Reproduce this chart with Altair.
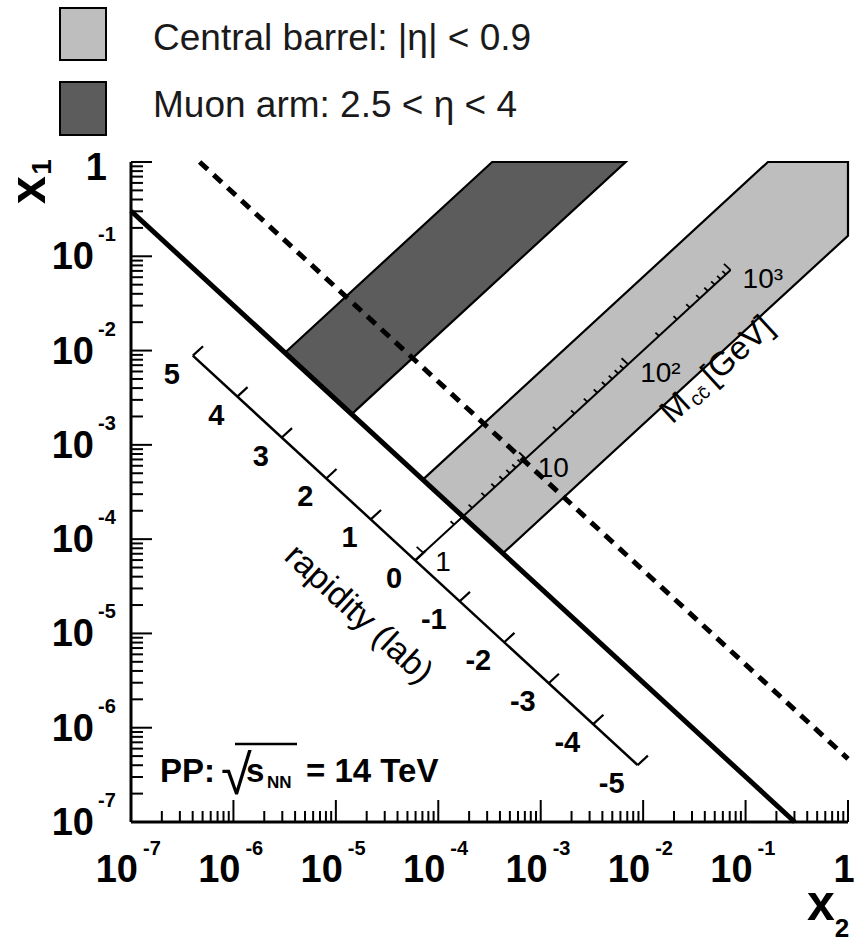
import math
import pandas as pd
import altair as alt

# ---------------- values ----------------
SQRT_S_GEV = 14000.0

# log10(x1 * x2) along the straight diagonals
logprod_solid = -7.52
logprod_dashed = -6.33
logprod_rapidity_axis = -8.45

# pseudorapidity acceptances
central_eta = [-0.9, 0.9]
muon_eta = [2.5, 4.0]

rapidity_values = [5, 4, 3, 2, 1, 0, -1, -2, -3, -4, -5]

mass_top_gev = 1000.0
mass_major_gev = [1, 10, 100, 1000]
mass_major_text = ["1", "10", "10²", "10³"]

decades = [-7, -6, -5, -4, -3, -2, -1, 0]

legend_text = ["Central barrel: |η| < 0.9", "Muon arm: 2.5 < η < 4"]

LIGHT = "#bebebe"
DARK = "#5c5c5c"
FONT = "Liberation Sans"
W, H = 717, 660

# ---------------- geometry helpers ----------------
LN10 = math.log(10.0)


def logratio(eta):
    """log10(x1/x2) for a given rapidity."""
    return 2.0 * eta / LN10


def band_polygon(eta_lo, eta_hi, s):
    """Vertices (log x2, log x1) of an acceptance band above the line log(x1 x2) = s."""
    lo, hi = logratio(eta_lo), logratio(eta_hi)
    pts = [((s - hi) / 2, (s + hi) / 2), (-hi, 0.0)]
    if lo >= 0:
        pts.append((-lo, 0.0))
    else:
        pts += [(0.0, 0.0), (0.0, lo)]
    pts.append(((s - lo) / 2, (s + lo) / 2))
    return pts


def sweep(poly):
    """Upper/lower envelope of a convex polygon at each vertex abscissa."""
    xs = sorted(set(round(p[0], 9) for p in poly))
    n = len(poly)
    out = []
    for xv in xs:
        vals = []
        for i in range(n):
            (ax, ay), (bx, by) = poly[i], poly[(i + 1) % n]
            if min(ax, bx) - 1e-9 <= xv <= max(ax, bx) + 1e-9:
                if abs(bx - ax) < 1e-12:
                    vals += [ay, by]
                else:
                    t = (xv - ax) / (bx - ax)
                    vals.append(ay + t * (by - ay))
        out.append((xv, max(vals), min(vals)))
    return out


def area_df(poly):
    rows = [{"x2": 10 ** a, "top": 10 ** b, "bot": 10 ** c} for a, b, c in sweep(poly)]
    return pd.DataFrame(rows)


def outline_df(poly, name):
    closed = poly + [poly[0]]
    return pd.DataFrame({
        "band": name,
        "i": list(range(len(closed))),
        "x2": [10 ** p[0] for p in closed],
        "x1": [10 ** p[1] for p in closed],
    })


light_poly = band_polygon(central_eta[0], central_eta[1], logprod_solid)
dark_poly = band_polygon(muon_eta[0], muon_eta[1], logprod_solid)

outlines = pd.concat([outline_df(light_poly, "central"), outline_df(dark_poly, "muon")])


def diagonal(s):
    """End points of the line log(x1 x2) = s inside the unit square of decades."""
    if s < -7:
        return {"xa": 1e-7, "ya": 10 ** (s + 7), "xb": 10 ** (s + 7), "yb": 1e-7}
    return {"xa": 10 ** s, "ya": 1.0, "xb": 1.0, "yb": 10 ** s}


solid_df = pd.DataFrame([diagonal(logprod_solid)])
dashed_df = pd.DataFrame([diagonal(logprod_dashed)])

# rapidity scale along log(x1 x2) = const
rap_rows = []
for yv in rapidity_values:
    d = logratio(yv)
    bx, by = (logprod_rapidity_axis - d) / 2, (logprod_rapidity_axis + d) / 2
    rap_rows.append({"xa": 10 ** bx, "ya": 10 ** by, "xb": 10 ** (bx + 0.1), "yb": 10 ** (by + 0.1),
                     "label": str(yv)})
rap_df = pd.DataFrame(rap_rows)
rap_line = pd.DataFrame([{"xa": rap_rows[0]["xa"], "ya": rap_rows[0]["ya"],
                          "xb": rap_rows[-1]["xa"], "yb": rap_rows[-1]["ya"]}])

# invariant-mass scale along x1 = x2
lx_lo = logprod_rapidity_axis / 2
lx_hi = math.log10(mass_top_gev / SQRT_S_GEV)
mass_line = pd.DataFrame([{"xa": 10 ** lx_lo, "ya": 10 ** lx_lo, "xb": 10 ** lx_hi, "yb": 10 ** lx_hi}])
mass_values = [k * 10 ** p for p in range(0, 3) for k in range(1, 10)] + [mass_top_gev]
mt = []
for m in mass_values:
    lx = math.log10(m / SQRT_S_GEV)
    if lx < lx_lo:
        continue
    dlt = 0.065 if m in mass_major_gev else 0.035
    mt.append({"xa": 10 ** lx, "ya": 10 ** lx, "xb": 10 ** (lx - dlt), "yb": 10 ** (lx + dlt)})
mass_tick_df = pd.DataFrame(mt)
mass_lab_df = pd.DataFrame({
    "x": [m / SQRT_S_GEV for m in mass_major_gev],
    "label": mass_major_text,
})

# frame ticks
x_minor = [k * 10.0 ** d for d in range(-7, 0) for k in range(2, 10)]
x_major = [10.0 ** d for d in range(-6, 1)]
y_minor = x_minor
y_major = x_major

dec_df = pd.DataFrame({"v": [10.0 ** d for d in decades if d != 0],
                       "exp": [str(d) for d in decades if d != 0]})
one_df = pd.DataFrame({"v": [1.0]})

# ---------------- encodings ----------------
xs = alt.Scale(type="log", domain=[1e-7, 1], nice=False)
ys = alt.Scale(type="log", domain=[1e-7, 1], nice=False)


def X(f):
    return alt.X(f, type="quantitative", scale=xs, axis=None)


def Y(f):
    return alt.Y(f, type="quantitative", scale=ys, axis=None)


one = alt.Data(values=[{}])

layers = []

# acceptance bands
layers.append(alt.Chart(area_df(light_poly)).mark_area(color=LIGHT, opacity=1).encode(
    x=X("x2"), y=Y("top"), y2=alt.Y2("bot")))
layers.append(alt.Chart(area_df(dark_poly)).mark_area(color=DARK, opacity=1).encode(
    x=X("x2"), y=Y("top"), y2=alt.Y2("bot")))
layers.append(alt.Chart(outlines).mark_line(color="black", strokeWidth=2.2).encode(
    x=X("x2"), y=Y("x1"), order="i:Q", detail="band:N"))

# diagonals
layers.append(alt.Chart(solid_df).mark_rule(color="black", strokeWidth=5).encode(
    x=X("xa"), y=Y("ya"), x2=alt.X2("xb"), y2=alt.Y2("yb")))
layers.append(alt.Chart(dashed_df).mark_rule(color="black", strokeWidth=5, strokeDash=[11, 8]).encode(
    x=X("xa"), y=Y("ya"), x2=alt.X2("xb"), y2=alt.Y2("yb")))

# mass scale
layers.append(alt.Chart(mass_line).mark_rule(color="black", strokeWidth=2).encode(
    x=X("xa"), y=Y("ya"), x2=alt.X2("xb"), y2=alt.Y2("yb")))
layers.append(alt.Chart(mass_tick_df).mark_rule(color="black", strokeWidth=1.8).encode(
    x=X("xa"), y=Y("ya"), x2=alt.X2("xb"), y2=alt.Y2("yb")))
layers.append(alt.Chart(mass_lab_df).mark_text(font=FONT, fontSize=28, align="left", baseline="middle",
                                               dx=12, dy=10, color="black").encode(
    x=X("x"), y=Y("x"), text="label:N"))

# rapidity scale
layers.append(alt.Chart(rap_line).mark_rule(color="black", strokeWidth=2.5).encode(
    x=X("xa"), y=Y("ya"), x2=alt.X2("xb"), y2=alt.Y2("yb")))
layers.append(alt.Chart(rap_df).mark_rule(color="black", strokeWidth=2.2).encode(
    x=X("xa"), y=Y("ya"), x2=alt.X2("xb"), y2=alt.Y2("yb")))
layers.append(alt.Chart(rap_df).mark_text(font=FONT, fontSize=29, fontWeight="bold", align="right",
                                          baseline="middle", dx=-13, dy=19, color="black").encode(
    x=X("xa"), y=Y("ya"), text="label:N"))

# rotated scale titles
rap_anchor = pd.DataFrame({"x": [10 ** -4.78], "y": [10 ** -4.80]})
layers.append(alt.Chart(rap_anchor).mark_text(font=FONT, fontSize=34, angle=42.7, align="center",
                                              baseline="middle", text="rapidity (lab)",
                                              color="black").encode(x=X("x"), y=Y("y")))

m_anchor = pd.DataFrame({"x": [10 ** -1.28], "y": [10 ** -2.205]})
layers.append(alt.Chart(m_anchor).mark_text(font=FONT, fontSize=33, angle=317.3, align="left",
                                            baseline="middle", dx=-70, text="M", color="black").encode(
    x=X("x"), y=Y("y")))
layers.append(alt.Chart(m_anchor).mark_text(font=FONT, fontSize=20, angle=317.3, align="left",
                                            baseline="middle", dx=-40, dy=8, text="cc̄", color="black").encode(
    x=X("x"), y=Y("y")))
layers.append(alt.Chart(m_anchor).mark_text(font=FONT, fontSize=33, angle=317.3, align="left",
                                            baseline="middle", dx=-14, text="[GeV]", color="black").encode(
    x=X("x"), y=Y("y")))

# frame lines
layers.append(alt.Chart(one).mark_rule(color="black", strokeWidth=3).encode(
    x=alt.value(0), x2=alt.value(W), y=alt.value(H)))
layers.append(alt.Chart(one).mark_rule(color="black", strokeWidth=3).encode(
    x=alt.value(0), y=alt.value(0), y2=alt.value(H)))

# frame ticks (pointing inwards)
layers.append(alt.Chart(pd.DataFrame({"v": x_minor})).mark_rule(color="black", strokeWidth=2).encode(
    x=X("v"), y=alt.value(H), y2=alt.value(H - 11)))
layers.append(alt.Chart(pd.DataFrame({"v": x_major})).mark_rule(color="black", strokeWidth=2).encode(
    x=X("v"), y=alt.value(H), y2=alt.value(H - 22)))
layers.append(alt.Chart(pd.DataFrame({"v": y_minor})).mark_rule(color="black", strokeWidth=2).encode(
    y=Y("v"), x=alt.value(0), x2=alt.value(12)))
layers.append(alt.Chart(pd.DataFrame({"v": y_major})).mark_rule(color="black", strokeWidth=2).encode(
    y=Y("v"), x=alt.value(0), x2=alt.value(21)))

# frame labels: x2 axis
layers.append(alt.Chart(dec_df).mark_text(font=FONT, fontSize=38, fontWeight="bold", align="right",
                                          baseline="alphabetic", dx=7, color="black").encode(
    x=X("v"), y=alt.value(H + 60), text=alt.value("10")))
layers.append(alt.Chart(dec_df).mark_text(font=FONT, fontSize=20, fontWeight="bold", align="left",
                                          baseline="alphabetic", dx=12, color="black").encode(
    x=X("v"), y=alt.value(H + 33), text="exp:N"))
layers.append(alt.Chart(one_df).mark_text(font=FONT, fontSize=38, fontWeight="bold", align="center",
                                          baseline="alphabetic", dx=-4, color="black").encode(
    x=X("v"), y=alt.value(H + 60), text=alt.value("1")))

# frame labels: x1 axis
layers.append(alt.Chart(dec_df).mark_text(font=FONT, fontSize=38, fontWeight="bold", align="right",
                                          baseline="middle", dy=2, color="black").encode(
    y=Y("v"), x=alt.value(-37), text=alt.value("10")))
layers.append(alt.Chart(dec_df).mark_text(font=FONT, fontSize=20, fontWeight="bold", align="left",
                                          baseline="middle", dy=-21, color="black").encode(
    y=Y("v"), x=alt.value(-33), text="exp:N"))
layers.append(alt.Chart(one_df).mark_text(font=FONT, fontSize=38, fontWeight="bold", align="right",
                                          baseline="middle", dy=7, color="black").encode(
    y=Y("v"), x=alt.value(-24), text=alt.value("1")))

# axis titles
layers.append(alt.Chart(one).mark_text(font=FONT, fontSize=50, fontWeight="bold", angle=270,
                                       align="center", baseline="alphabetic", text="x", color="black").encode(
    x=alt.value(-86), y=alt.value(28)))
layers.append(alt.Chart(one).mark_text(font=FONT, fontSize=28, fontWeight="bold", angle=270,
                                       align="center", baseline="alphabetic", text="1", color="black").encode(
    x=alt.value(-80), y=alt.value(5)))
layers.append(alt.Chart(one).mark_text(font=FONT, fontSize=50, fontWeight="bold", align="center",
                                       baseline="alphabetic", text="x", color="black").encode(
    x=alt.value(690), y=alt.value(758)))
layers.append(alt.Chart(one).mark_text(font=FONT, fontSize=26, fontWeight="bold", align="center",
                                       baseline="alphabetic", text="2", color="black").encode(
    x=alt.value(711), y=alt.value(775)))

# collision label
pp_parts = [("PP:", 29, 620, 33, "bold"), ("√", 90, 632, 56, "normal"), ("s", 115, 620, 33, "bold"),
            ("NN", 136, 626, 17, "bold"), ("= 14 TeV", 175, 620, 33, "bold")]
for txt, px, py, fs, fw in pp_parts:
    layers.append(alt.Chart(one).mark_text(font=FONT, fontSize=fs, fontWeight=fw, align="left",
                                           baseline="alphabetic", text=txt, color="black").encode(
        x=alt.value(px), y=alt.value(py)))
layers.append(alt.Chart(one).mark_rule(color="black", strokeWidth=2.5).encode(
    x=alt.value(104), x2=alt.value(166), y=alt.value(582)))

# legend
layers.append(alt.Chart(one).mark_rect(fill=LIGHT, stroke="black", strokeWidth=2).encode(
    x=alt.value(-71), x2=alt.value(-25), y=alt.value(-154), y2=alt.value(-102)))
layers.append(alt.Chart(one).mark_rect(fill=DARK, stroke="black", strokeWidth=2).encode(
    x=alt.value(-71), x2=alt.value(-25), y=alt.value(-80), y2=alt.value(-27)))
for txt, py in zip(legend_text, [-112, -45]):
    layers.append(alt.Chart(one).mark_text(font=FONT, fontSize=37, align="left", baseline="alphabetic",
                                           text=txt, color="#1a1a1a").encode(
        x=alt.value(22), y=alt.value(py)))

chart = alt.layer(*layers).properties(
    width=W, height=H,
    autosize=alt.AutoSizeParams(type="none"),
    padding={"left": 131, "top": 162, "right": 6, "bottom": 123},
).configure_view(stroke=None)

chart.save("out.html", embed_options={"renderer": "svg", "actions": False})
